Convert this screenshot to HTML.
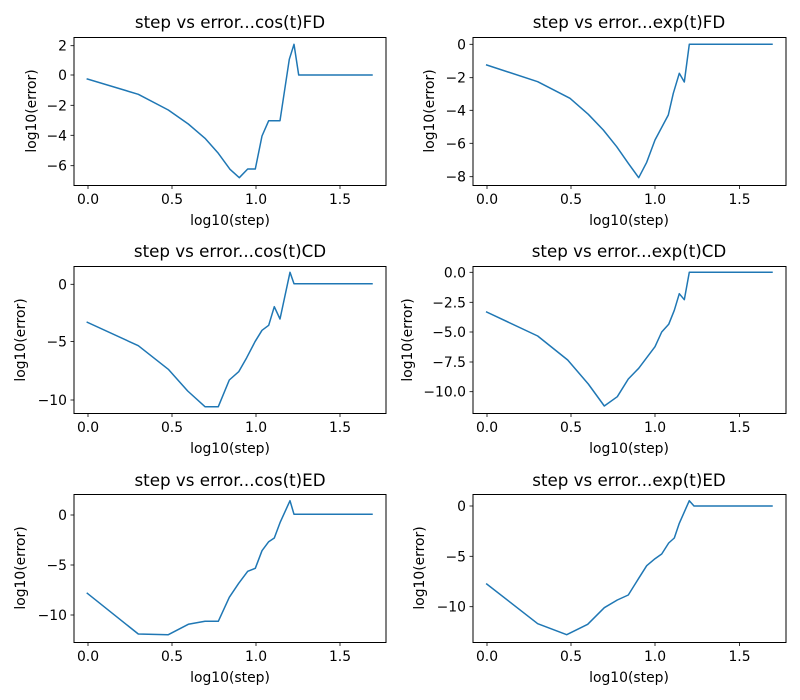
<!DOCTYPE html>
<html><head><style>
html,body{margin:0;padding:0;background:#fff}
svg{display:block;font-family:"DejaVu Sans","Liberation Sans",sans-serif}
.t{font-size:13.9px;fill:#000}
.ti{font-size:16.7px;fill:#000}
.ax{fill:none;stroke:#000;stroke-width:1}
.s{fill:none;stroke:#1f77b4;stroke-width:1.5;stroke-linejoin:round;stroke-linecap:square}
.tk{stroke:#000;stroke-width:0.8}
</style></head><body>
<svg width="800" height="700" viewBox="0 0 800 700" xmlns="http://www.w3.org/2000/svg">
<rect width="800" height="700" fill="#fff"/>

<!-- Plot 1 -->
<rect class="ax" x="74" y="37.5" width="312" height="148"/>
<text class="ti" x="230" y="28" text-anchor="middle">step vs error...cos(t)FD</text>
<g class="tk"><line x1="88" y1="185.5" x2="88" y2="189"/><line x1="172" y1="185.5" x2="172" y2="189"/><line x1="256" y1="185.5" x2="256" y2="189"/><line x1="340" y1="185.5" x2="340" y2="189"/>
<line x1="70.5" y1="45.7" x2="74" y2="45.7"/><line x1="70.5" y1="75" x2="74" y2="75"/><line x1="70.5" y1="105.3" x2="74" y2="105.3"/><line x1="70.5" y1="135.3" x2="74" y2="135.3"/><line x1="70.5" y1="165.7" x2="74" y2="165.7"/></g>
<g class="t" text-anchor="middle"><text x="88" y="204">0.0</text><text x="172" y="204">0.5</text><text x="256" y="204">1.0</text><text x="340" y="204">1.5</text></g>
<g class="t" text-anchor="end"><text x="67" y="50.7">2</text><text x="67" y="80">0</text><text x="67" y="110.3">−2</text><text x="67" y="140.3">−4</text><text x="67" y="170.7">−6</text></g>
<text class="t" x="230" y="225" text-anchor="middle">log10(step)</text>
<text class="t" transform="translate(36,111) rotate(-90)" text-anchor="middle">log10(error)</text>
<polyline class="s" points="87.3,79 138.3,94.3 168.3,110 188.3,124 205,138.3 218.3,153.3 230,169.3 239.3,177.7 247.7,169 255.3,169 262,136 268.7,120.7 280,120.7 289.3,59.3 294,44.3 298.7,75 372,75"/>

<!-- Plot 2 -->
<rect class="ax" x="473" y="37.5" width="313" height="148"/>
<text class="ti" x="629" y="28" text-anchor="middle">step vs error...exp(t)FD</text>
<g class="tk"><line x1="487" y1="185.5" x2="487" y2="189"/><line x1="571" y1="185.5" x2="571" y2="189"/><line x1="655" y1="185.5" x2="655" y2="189"/><line x1="739.5" y1="185.5" x2="739.5" y2="189"/>
<line x1="469.5" y1="44.3" x2="473" y2="44.3"/><line x1="469.5" y1="77.7" x2="473" y2="77.7"/><line x1="469.5" y1="110.3" x2="473" y2="110.3"/><line x1="469.5" y1="143.3" x2="473" y2="143.3"/><line x1="469.5" y1="176.7" x2="473" y2="176.7"/></g>
<g class="t" text-anchor="middle"><text x="487" y="204">0.0</text><text x="571" y="204">0.5</text><text x="655" y="204">1.0</text><text x="739.5" y="204">1.5</text></g>
<g class="t" text-anchor="end"><text x="466" y="49.3">0</text><text x="466" y="82.7">−2</text><text x="466" y="115.3">−4</text><text x="466" y="148.3">−6</text><text x="466" y="181.7">−8</text></g>
<text class="t" x="629" y="225" text-anchor="middle">log10(step)</text>
<text class="t" transform="translate(434,111) rotate(-90)" text-anchor="middle">log10(error)</text>
<polyline class="s" points="486.7,65 537.7,81.7 570,98.3 588.3,114.3 603.3,130 616.7,146.7 628.3,163.3 638.7,177.7 646.7,162.3 655,140 668.3,115 673.3,93.3 679.3,73.3 684.3,82 689.3,44.3 772,44.3"/>

<!-- Plot 3 -->
<rect class="ax" x="74" y="266.5" width="312" height="147"/>
<text class="ti" x="230" y="257" text-anchor="middle">step vs error...cos(t)CD</text>
<g class="tk"><line x1="88" y1="413.5" x2="88" y2="417"/><line x1="172" y1="413.5" x2="172" y2="417"/><line x1="256" y1="413.5" x2="256" y2="417"/><line x1="340" y1="413.5" x2="340" y2="417"/>
<line x1="70.5" y1="284.3" x2="74" y2="284.3"/><line x1="70.5" y1="341.5" x2="74" y2="341.5"/><line x1="70.5" y1="400" x2="74" y2="400"/></g>
<g class="t" text-anchor="middle"><text x="88" y="432">0.0</text><text x="172" y="432">0.5</text><text x="256" y="432">1.0</text><text x="340" y="432">1.5</text></g>
<g class="t" text-anchor="end"><text x="67" y="289.3">0</text><text x="67" y="346.5">−5</text><text x="67" y="405">−10</text></g>
<text class="t" x="230" y="453" text-anchor="middle">log10(step)</text>
<text class="t" transform="translate(25,340) rotate(-90)" text-anchor="middle">log10(error)</text>
<polyline class="s" points="87.3,322.3 138.3,345.7 168.3,369.3 187.7,391 205,406.7 218.3,406.7 229.3,380 238.7,371.7 246.7,357.7 255,341.7 262,330.3 268.7,325.3 274.3,306.7 280,319 290,272.3 294,283.7 372,283.7"/>

<!-- Plot 4 -->
<rect class="ax" x="473" y="266.5" width="313" height="147"/>
<text class="ti" x="629" y="257" text-anchor="middle">step vs error...exp(t)CD</text>
<g class="tk"><line x1="487" y1="413.5" x2="487" y2="417"/><line x1="571" y1="413.5" x2="571" y2="417"/><line x1="655" y1="413.5" x2="655" y2="417"/><line x1="739.5" y1="413.5" x2="739.5" y2="417"/>
<line x1="469.5" y1="272.3" x2="473" y2="272.3"/><line x1="469.5" y1="302.3" x2="473" y2="302.3"/><line x1="469.5" y1="332" x2="473" y2="332"/><line x1="469.5" y1="362" x2="473" y2="362"/><line x1="469.5" y1="391.7" x2="473" y2="391.7"/></g>
<g class="t" text-anchor="middle"><text x="487" y="432">0.0</text><text x="571" y="432">0.5</text><text x="655" y="432">1.0</text><text x="739.5" y="432">1.5</text></g>
<g class="t" text-anchor="end"><text x="466" y="277.3">0.0</text><text x="466" y="307.3">−2.5</text><text x="466" y="337">−5.0</text><text x="466" y="367">−7.5</text><text x="466" y="396.7">−10.0</text></g>
<text class="t" x="629" y="453" text-anchor="middle">log10(step)</text>
<text class="t" transform="translate(412,340) rotate(-90)" text-anchor="middle">log10(error)</text>
<polyline class="s" points="486.7,312 537.7,336 567.7,360 588.3,384 604.3,406 617.3,396.7 628.3,379 638.7,368.3 646.7,357.7 655,346.7 661.7,332 668.7,324.3 674.3,310.3 679.3,293.7 684.3,299.7 689.3,272.3 772,272.3"/>

<!-- Plot 5 -->
<rect class="ax" x="74" y="494.5" width="312" height="148"/>
<text class="ti" x="230" y="486" text-anchor="middle">step vs error...cos(t)ED</text>
<g class="tk"><line x1="88" y1="642.5" x2="88" y2="646"/><line x1="172" y1="642.5" x2="172" y2="646"/><line x1="256" y1="642.5" x2="256" y2="646"/><line x1="340" y1="642.5" x2="340" y2="646"/>
<line x1="70.5" y1="515" x2="74" y2="515"/><line x1="70.5" y1="565" x2="74" y2="565"/><line x1="70.5" y1="615" x2="74" y2="615"/></g>
<g class="t" text-anchor="middle"><text x="88" y="661">0.0</text><text x="172" y="661">0.5</text><text x="256" y="661">1.0</text><text x="340" y="661">1.5</text></g>
<g class="t" text-anchor="end"><text x="67" y="520">0</text><text x="67" y="570">−5</text><text x="67" y="620">−10</text></g>
<text class="t" x="230" y="682" text-anchor="middle">log10(step)</text>
<text class="t" transform="translate(25,568) rotate(-90)" text-anchor="middle">log10(error)</text>
<polyline class="s" points="87.3,593.3 138.3,634 168.3,634.7 188.3,624.3 205,621.3 218.3,621.3 229.3,597.3 238.7,583.3 247.7,571.3 255.3,568.3 262,550.7 268.7,541.7 274.3,538 280,522.7 290,500.7 294,514.3 372,514.3"/>

<!-- Plot 6 -->
<rect class="ax" x="473" y="494.5" width="313" height="148"/>
<text class="ti" x="629" y="486" text-anchor="middle">step vs error...exp(t)ED</text>
<g class="tk"><line x1="487" y1="642.5" x2="487" y2="646"/><line x1="571" y1="642.5" x2="571" y2="646"/><line x1="655" y1="642.5" x2="655" y2="646"/><line x1="739.5" y1="642.5" x2="739.5" y2="646"/>
<line x1="469.5" y1="506" x2="473" y2="506"/><line x1="469.5" y1="556.3" x2="473" y2="556.3"/><line x1="469.5" y1="606.7" x2="473" y2="606.7"/></g>
<g class="t" text-anchor="middle"><text x="487" y="661">0.0</text><text x="571" y="661">0.5</text><text x="655" y="661">1.0</text><text x="739.5" y="661">1.5</text></g>
<g class="t" text-anchor="end"><text x="466" y="511">0</text><text x="466" y="561.3">−5</text><text x="466" y="611.7">−10</text></g>
<text class="t" x="629" y="682" text-anchor="middle">log10(step)</text>
<text class="t" transform="translate(424,568) rotate(-90)" text-anchor="middle">log10(error)</text>
<polyline class="s" points="486.7,584 537.7,623.7 566.7,634.7 587.7,624.3 604.3,607.7 617.3,600 628.3,595 638.7,578.3 646.7,565.7 655,558.7 661.7,554 668.7,543 674.3,538 679.3,523.3 689.3,500.7 694,506 772,506"/>
</svg>
</body></html>
